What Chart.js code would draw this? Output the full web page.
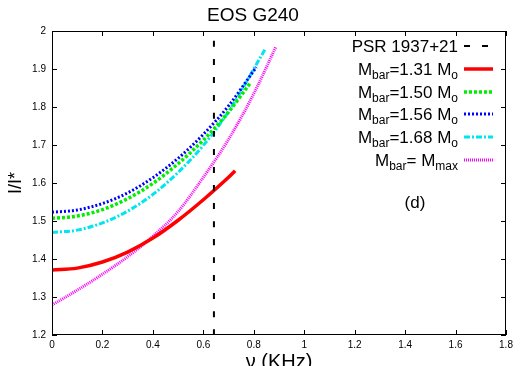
<!DOCTYPE html>
<html>
<head>
<meta charset="utf-8">
<script src="https://cdn.jsdelivr.net/npm/chart.js@4.4.0/dist/chart.umd.min.js"></script>
<style>
html, body { margin: 0; padding: 0; background: #fff; }
#wrap { width: 523px; height: 366px; }
</style>
</head>
<body>
<div id="wrap"><canvas id="chart"></canvas></div>
<script>
// spin frequency (KHz) and I/I* for each baryonic mass
const nu131 = [0, 0.1, 0.2, 0.3, 0.4, 0.5, 0.6, 0.7, 0.726];
const inertia131 = [1.371, 1.376, 1.392, 1.418, 1.455, 1.502, 1.556, 1.615, 1.632];

const nu150 = [0, 0.1, 0.2, 0.3, 0.4, 0.5, 0.6, 0.7, 0.788];
const inertia150 = [1.507, 1.513, 1.530, 1.559, 1.599, 1.651, 1.713, 1.787, 1.865];

const nu156 = [0, 0.1, 0.2, 0.3, 0.4, 0.5, 0.6, 0.7, 0.81];
const inertia156 = [1.523, 1.529, 1.546, 1.574, 1.614, 1.665, 1.728, 1.803, 1.905];

const nu168 = [0, 0.1, 0.2, 0.3, 0.4, 0.5, 0.6, 0.7, 0.845];
const inertia168 = [1.470, 1.476, 1.495, 1.526, 1.570, 1.628, 1.699, 1.788, 1.952];

const nuMax = [0, 0.1, 0.2, 0.3, 0.4, 0.5, 0.6, 0.7, 0.8, 0.888];
const inertiaMax = [1.279, 1.318, 1.360, 1.406, 1.460, 1.525, 1.615, 1.715, 1.835, 1.959];

// PSR 1937+21 spin frequency
const psrNu = [0.642, 0.642];
const psrInertia = [1.2, 2.0];

const legendLabels = [
    'PSR 1937+21',
    'M_{bar}=1.31 M_{o}',
    'M_{bar}=1.50 M_{o}',
    'M_{bar}=1.56 M_{o}',
    'M_{bar}=1.68 M_{o}',
    'M_{bar}= M_{max}'
];

const xTicks = [0, 0.2, 0.4, 0.6, 0.8, 1, 1.2, 1.4, 1.6, 1.8];
const yTicks = [1.2, 1.3, 1.4, 1.5, 1.6, 1.7, 1.8, 1.9, 2];

const fontFamily = "'Liberation Sans', Arial, Helvetica, sans-serif";
Chart.defaults.font.family = fontFamily;
Chart.defaults.color = '#000';

function toPoints(xs, ys) {
    return xs.map((x, i) => ({ x: x, y: ys[i] }));
}

function drawRich(ctx, text, xRight, yMid) {
    // split "M_{bar}=1.31" into normal / subscript pieces
    const parts = [];
    const re = /_\{([^}]*)\}/g;
    let last = 0, m;
    while ((m = re.exec(text)) !== null) {
        if (m.index > last) parts.push({ t: text.slice(last, m.index), sub: false });
        parts.push({ t: m[1], sub: true });
        last = re.lastIndex;
    }
    if (last < text.length) parts.push({ t: text.slice(last), sub: false });

    const mainFont = '17px ' + fontFamily;
    const subFont = '12px ' + fontFamily;
    let total = 0;
    parts.forEach(p => {
        ctx.font = p.sub ? subFont : mainFont;
        p.w = ctx.measureText(p.t).width;
        total += p.w;
    });
    let x = xRight - total;
    const base = yMid + 6;
    ctx.textAlign = 'left';
    ctx.textBaseline = 'alphabetic';
    ctx.fillStyle = '#000';
    parts.forEach(p => {
        ctx.font = p.sub ? subFont : mainFont;
        ctx.fillText(p.t, x, p.sub ? base + 4 : base);
        x += p.w;
    });
}

const framePlugin = {
    id: 'frame',
    afterDraw(chart) {
        const ctx = chart.ctx;
        const a = chart.chartArea;
        const xs = chart.scales.x;
        const ys = chart.scales.y;
        ctx.save();
        ctx.strokeStyle = '#000';
        ctx.lineWidth = 1;
        ctx.setLineDash([]);
        ctx.strokeRect(a.left + 0.5, a.top + 0.5, a.right - a.left - 1, a.bottom - a.top - 1);
        ctx.beginPath();
        xs.ticks.forEach(t => {
            const px = Math.round(xs.getPixelForValue(t.value)) + 0.5;
            ctx.moveTo(px, a.bottom);
            ctx.lineTo(px, a.bottom - 5);
            ctx.moveTo(px, a.top);
            ctx.lineTo(px, a.top + 5);
        });
        ys.ticks.forEach(t => {
            const py = Math.round(ys.getPixelForValue(t.value)) + 0.5;
            ctx.moveTo(a.left, py);
            ctx.lineTo(a.left + 5, py);
            ctx.moveTo(a.right, py);
            ctx.lineTo(a.right - 5, py);
        });
        ctx.stroke();

        // legend
        const rows = [46, 69, 92, 114, 137, 160];
        chart.data.datasets.forEach((ds, i) => {
            const y = rows[i];
            drawRich(ctx, legendLabels[i], 458, y);
            ctx.beginPath();
            ctx.strokeStyle = ds.borderColor;
            ctx.lineWidth = ds.borderWidth;
            ctx.setLineDash(ds.borderDash || []);
            ctx.moveTo(464, y);
            ctx.lineTo(493, y);
            ctx.stroke();
        });
        ctx.setLineDash([]);

        ctx.font = '17px ' + fontFamily;
        ctx.fillStyle = '#000';
        ctx.textAlign = 'center';
        ctx.textBaseline = 'middle';
        ctx.fillText('(d)', 415, 203);
        ctx.restore();
    }
};

const lineDefaults = { pointRadius: 0, fill: false, cubicInterpolationMode: 'monotone' };

new Chart(document.getElementById('chart'), {
    type: 'line',
    data: {
        datasets: [
            { ...lineDefaults, label: legendLabels[0], data: toPoints(psrNu, psrInertia), borderColor: '#000', borderWidth: 2, borderDash: [6, 12], order: 0 },
            { ...lineDefaults, label: legendLabels[1], data: toPoints(nu131, inertia131), borderColor: '#ff0000', borderWidth: 3.5, borderDash: [], order: 1 },
            { ...lineDefaults, label: legendLabels[2], data: toPoints(nu150, inertia150), borderColor: '#00ee00', borderWidth: 3.5, borderDash: [3, 2], order: 3 },
            { ...lineDefaults, label: legendLabels[3], data: toPoints(nu156, inertia156), borderColor: '#0000ff', borderWidth: 3, borderDash: [2, 2], order: 2 },
            { ...lineDefaults, label: legendLabels[4], data: toPoints(nu168, inertia168), borderColor: '#00e5ee', borderWidth: 3, borderDash: [6, 2, 2, 2], order: 4 },
            { ...lineDefaults, label: legendLabels[5], data: toPoints(nuMax, inertiaMax), borderColor: '#ff00ff', borderWidth: 3, borderDash: [1, 1], order: 5 }
        ]
    },
    options: {
        responsive: true,
        maintainAspectRatio: false,
        animation: false,
        layout: { padding: { left: 0, right: 17, top: 0, bottom: 0 } },
        scales: {
            x: {
                type: 'linear',
                min: 0,
                max: 1.8,
                afterFit: s => { s.height = 31; },
                afterBuildTicks: s => { s.ticks = xTicks.map(v => ({ value: v })); },
                grid: { display: false, drawTicks: false },
                border: { display: false },
                ticks: { autoSkip: false, maxRotation: 0, padding: 4, font: { size: 10 }, callback: v => String(+v.toFixed(2)) },
                title: { display: true, text: 'ν (KHz)', font: { size: 20 }, padding: { top: 0, bottom: -8 } }
            },
            y: {
                type: 'linear',
                min: 1.2,
                max: 2,
                afterFit: s => { s.width = 52; },
                afterBuildTicks: s => { s.ticks = yTicks.map(v => ({ value: v })); },
                grid: { display: false, drawTicks: false },
                border: { display: false },
                ticks: { autoSkip: false, padding: 6, font: { size: 10 }, callback: v => String(+v.toFixed(2)) },
                title: { display: true, text: 'I/I*', font: { size: 18 }, padding: { top: 5, bottom: 0 } }
            }
        },
        plugins: {
            legend: { display: false },
            tooltip: { enabled: false },
            title: { display: true, text: 'EOS G240', font: { size: 19, weight: 'normal' }, padding: { top: 4, bottom: 4.2 } }
        }
    },
    plugins: [framePlugin]
});
</script>
</body>
</html>
